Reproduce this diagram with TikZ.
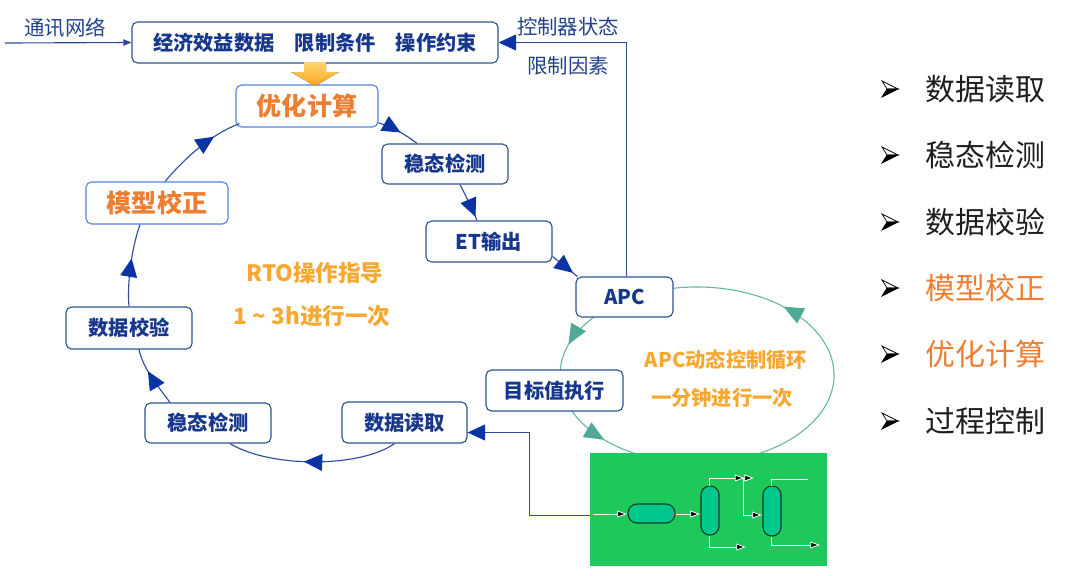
\documentclass[tikz,border=0pt]{standalone}
\usepackage{fontspec}
\setmainfont{Noto Sans CJK SC}
\usetikzlibrary{arrows.meta,decorations.markings}
\definecolor{cNavy}{RGB}{23,55,140}
\definecolor{cBox}{RGB}{47,82,143}
\definecolor{cLBox}{RGB}{84,132,222}
\definecolor{cLine}{RGB}{45,75,155}
\definecolor{cArr}{RGB}{10,52,165}
\definecolor{cOrg}{RGB}{237,125,49}
\definecolor{cGold}{RGB}{247,168,50}
\definecolor{cTeal}{RGB}{100,185,160}
\definecolor{cTealA}{RGB}{78,170,148}
\definecolor{cGrn}{RGB}{30,200,90}
\definecolor{cEq}{RGB}{0,200,140}
\definecolor{cEqL}{RGB}{25,60,40}
\definecolor{cLbl}{RGB}{35,65,140}
\definecolor{cTxt}{RGB}{30,30,30}
\definecolor{cYlw}{RGB}{255,214,110}
\definecolor{cYlwB}{RGB}{250,166,30}
\tikzset{
  box/.style={draw=cBox, line width=0.8pt, rounded corners=4pt, fill=white, inner sep=0pt,
    text=cNavy, font=\bfseries\fontsize{14.4}{17}\selectfont},
  obox/.style={box, draw=cLBox, text=cOrg, font=\bfseries\fontsize{17.8}{20}\selectfont},
  flowline/.style={draw=cLine, line width=0.8pt, postaction={decorate},
    decoration={markings, mark=at position #1 with {\arrow[cArr]{Triangle[length=4.6mm,width=4.2mm]}}}},
  thinline/.style={draw=cLine, line width=0.8pt},
  lbl/.style={text=cLbl, font=\fontsize{14.5}{17}\selectfont, inner sep=0pt},
  gold/.style={text=cGold, font=\bfseries\fontsize{14.4}{17}\selectfont, inner sep=0pt},
  bgold/.style={gold, font=\bfseries\fontsize{16}{19}\selectfont},
  item/.style={anchor=west, inner sep=0pt, text=cTxt, font=\fontsize{21.3}{24}\selectfont},
  oitem/.style={item, text=cOrg},
  pl/.style={draw=white, line width=0.6pt},
  pa/.style={pl, -{Triangle[length=2.4mm,width=1.7mm,fill=black]}},
  eqp/.style={fill=cEq, draw=cEqL, line width=0.8pt},
  bul/.pic={
    \filldraw[fill=white, draw=black, line width=0.5pt] (8,0) -- (-8,-8) -- (-3,0) -- cycle;
    \filldraw[black, line width=0.5pt] (8,0) -- (-3,0) -- (-8,8) -- cycle;
  }
}
\begin{document}
\begin{tikzpicture}[x=0.025cm, y=-0.025cm]
\useasboundingbox (0,0) rectangle (1080,575);

% APC loop ellipse
\coordinate (apcloop) at (697,375);
\draw[cTeal, line width=0.8pt, postaction={decorate},
  decoration={markings,
    mark=at position 0.125 with {\arrow[cTealA]{Triangle[length=5mm,width=4.2mm]}},
    mark=at position 0.455 with {\arrow[cTealA]{Triangle[length=5mm,width=4.2mm]}},
    mark=at position 0.615 with {\arrow[cTealA]{Triangle[length=5mm,width=4.2mm]}}}]
  (apcloop) ellipse [x radius=3.425cm, y radius=2.2cm];

% plant
\node[fill=cGrn, minimum width=5.925cm, minimum height=2.825cm, inner sep=0pt] (plant) at (708.5,509.5) {};
\draw[eqp, rounded corners=6.5pt] (628,504) rectangle (675,523);
\draw[eqp, rounded corners=6.3pt] (701,486) rectangle (719,535);
\draw[eqp, rounded corners=6.3pt] (763,486) rectangle (781,536);
\draw[pa] (593,514) -- (627,514);
\draw[pa] (676,514) -- (700,514);
\draw[pl, -{Triangle[length=2.4mm,width=1.7mm,fill=black]Triangle[length=2.4mm,width=1.7mm,fill=black]}] (709,486) -- (709,478) -- (754,478);
\draw[pa] (743,478) -- (743,515) -- (762,515);
\draw[pa] (709,536) -- (709,547) -- (746,547);
\draw[pl] (771,486) -- (771,479) -- (808,479);
\draw[pa] (771,537) -- (771,545) -- (820,545);

% boxes
\node[box, minimum width=9.15cm, minimum height=1.025cm] (top) at (315,42.5) {经济效益数据\quad 限制条件\quad 操作约束};
\node[obox, minimum width=3.55cm, minimum height=1.05cm] (opt) at (307,106) {优化计算};
\node[box, minimum width=3.15cm, minimum height=1cm] (ssR) at (445,164) {稳态检测};
\node[box, minimum width=3.15cm, minimum height=1.025cm] (et) at (489,241.5) {ET输出};
\node[box, minimum width=2.425cm, minimum height=1cm] (apc) at (624.5,297) {APC};
\node[box, minimum width=3.425cm, minimum height=1.025cm] (tgt) at (554.5,390.5) {目标值执行};
\node[box, minimum width=3.125cm, minimum height=1.025cm] (read) at (404.5,422.5) {数据读取};
\node[box, minimum width=3.15cm, minimum height=1cm] (ssL) at (208,423) {稳态检测};
\node[box, minimum width=3.15cm, minimum height=1.05cm] (val) at (129,328) {数据校验};
\node[obox, minimum width=3.55cm, minimum height=1.05cm] (cal) at (157,203) {模型校正};

% RTO loop connectors
\draw[flowline=0.55] ([xshift=-0.25cm]read.south) .. controls (360,468) and (270,468) .. ([xshift=0.55cm]ssL.south);
\draw[flowline=0.62] ([xshift=-0.95cm]ssL.north) .. controls (157,385) and (143,368) .. ([xshift=0.25cm]val.south);
\draw[flowline=0.58] (val.north) .. controls (127,285) and (131,250) .. ([xshift=-0.425cm]cal.south);
\draw[flowline=0.7] ([xshift=0.2cm]cal.north) .. controls (185,158) and (210,135) .. ([xshift=0.1cm,yshift=0.1cm]opt.south west);
\draw[flowline=0.55] ([yshift=0.12cm]opt.south east) .. controls (392,127) and (405,134) .. ([xshift=-0.7cm]ssR.north);
\draw[flowline=0.9] ([xshift=0.375cm]ssR.south) .. controls (466,196) and (472,208) .. ([xshift=-0.3cm]et.north);
\draw[flowline=0.82] ([yshift=0.15cm]et.south east) -- ([xshift=0.05cm]apc.north west);

% other connectors
\coordinate (netin) at (5,43);
\draw[thinline, -{Triangle[length=2mm,width=1.6mm]}] (netin) -- (top.west);
\draw[thinline, -{Triangle[length=4.4mm,width=4mm,color=cArr]}] ([xshift=0.04cm]apc.north) |- (top.east);
\draw[thinline, -{Triangle[length=4.4mm,width=4mm,color=cArr]}] ([yshift=-0.15cm]plant.west) -- ++(-1.5cm,0) |- ([yshift=-0.25cm]read.east);

% orange block arrow
\fill[top color=cYlw, bottom color=cYlwB] (304,62) -- (326,62) -- (326,72) -- (339,72) -- (315,86) -- (291,72) -- (304,72) -- cycle;

% labels
\node[lbl] (netlbl) at (65,28) {通讯网络};
\node[lbl] (ctrl) at (568,27) {控制器状态};
\node[lbl] (lim) at (568,66) {限制因素};
\node[bgold] (rto1) at (315,273) {RTO操作指导};
\node[bgold] (rto2) at (312,316) {1 \char`\~{} 3h进行一次};
\node[gold] (apc1) at (726,360) {APC动态控制循环};
\node[gold] (apc2) at (722,398) {一分钟进行一次};

% right list
\pic at (890,89) {bul};
\pic at (890,155) {bul};
\pic at (890,222) {bul};
\pic at (890,288) {bul};
\pic at (890,354) {bul};
\pic at (890,421) {bul};
\node[item] (l1) at (925,89) {数据读取};
\node[item] (l2) at (925,155) {稳态检测};
\node[item] (l3) at (925,222) {数据校验};
\node[oitem] (l4) at (925,288) {模型校正};
\node[oitem] (l5) at (925,354) {优化计算};
\node[item] (l6) at (925,421) {过程控制};
\end{tikzpicture}
\end{document}
